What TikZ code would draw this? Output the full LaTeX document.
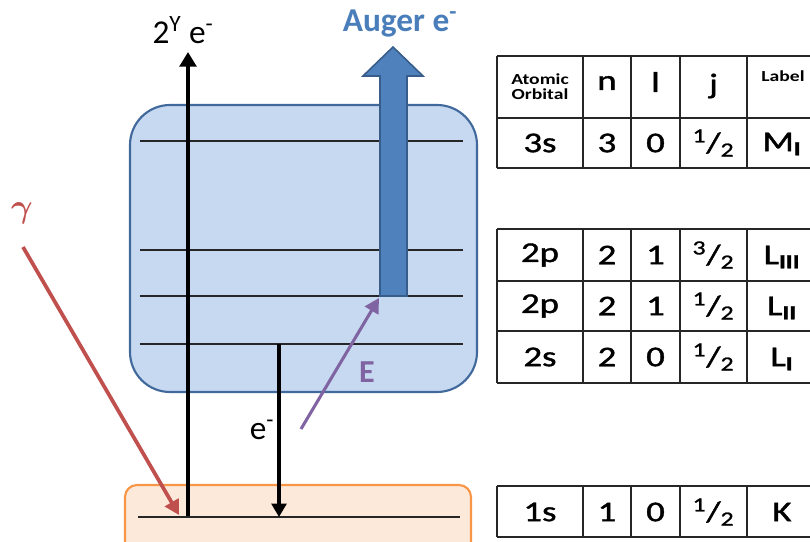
\documentclass[tikz,border=0pt]{standalone}
\usepackage{fontspec}
\usepackage{bm}
\setmainfont{Carlito}
\newfontfamily\tabfont{Carlito}[FakeBold=1.2]
\usetikzlibrary{arrows.meta}
\definecolor{mfill}{HTML}{C6D9F1}
\definecolor{mdraw}{HTML}{41699C}
\definecolor{kfill}{HTML}{FDE9D9}
\definecolor{kdraw}{HTML}{F79646}
\definecolor{augfill}{HTML}{4F81BD}
\definecolor{augdraw}{HTML}{385D8A}
\definecolor{augtext}{HTML}{4A7EBB}
\definecolor{gred}{HTML}{C0504D}
\definecolor{epurple}{HTML}{8064A2}
\newcommand{\tstretch}[1]{\scalebox{1.28}[1]{#1}}
\tikzset{
  level/.style={line width=1pt, draw=black!85},
  grid/.style={line width=1.1pt, draw=black!85},
  cell/.style={inner sep=0pt, font=\tabfont\fontsize{21.5}{23}\selectfont},
  hcell/.style={inner sep=0pt, font=\bfseries\fontsize{11.5}{12}\selectfont, align=center},
  bigtxt/.style={inner sep=0pt, font=\fontsize{25}{28}\selectfont},
}
\begin{document}
\begin{tikzpicture}[x=0.75pt,y=-0.75pt]
\useasboundingbox (0,0) rectangle (810,542);
\clip (0,0) rectangle (810,542);
% shells
\node (mshell) [draw=mdraw, fill=mfill, line width=1.6pt, rounded corners=30pt,
  minimum width=260.25pt, minimum height=215.25pt, inner sep=0pt] at (303.5,248.5) {};
\node (kshell) [draw=kdraw, fill=kfill, line width=1.6pt, rounded corners=9pt,
  minimum width=259.5pt, minimum height=75pt, inner sep=0pt] at (298,535) {};
% levels
\coordinate (m1a) at (140,141); \coordinate (m1b) at (463,141);
\coordinate (l3a) at (140,250); \coordinate (l3b) at (463,250);
\coordinate (l2a) at (140,296); \coordinate (l2b) at (463,296);
\coordinate (l1a) at (140,344); \coordinate (l1b) at (463,344);
\coordinate (ka) at (138,517); \coordinate (kb) at (460,517);
\draw[level] (m1a) -- (m1b);
\draw[level] (l3a) -- (l3b);
\draw[level] (l2a) -- (l2b);
\draw[level] (l1a) -- (l1b);
\draw[level] (ka) -- (kb);
% photoelectron
\coordinate (pe0) at (188,516);
\coordinate (pe1) at (188,52);
\draw[line width=2.9pt, -{Triangle[length=11pt,width=12.5pt]}] (pe0) -- (pe1);
\node (pelab) [bigtxt] at (183,30) {2\textsuperscript{Y} e\textsuperscript{-}};
% relaxing electron
\coordinate (d0) at (279,344);
\coordinate (d1) at (279,517);
\draw[line width=2.9pt, -{Triangle[length=10pt,width=11pt]}] (d0) -- (d1);
\node (dlab) [bigtxt] at (262,430) {e\textsuperscript{-}};
% gamma
\coordinate (g0) at (23,247);
\coordinate (g1) at (179,515);
\draw[gred, line width=2.8pt, -{Triangle[length=11pt,width=11.5pt]}] (g0) -- (g1);
\node (glab) [text=gred, inner sep=0pt, font=\fontsize{28}{30}\selectfont] at (22,213) {$\bm{\gamma}$};
% energy transfer
\coordinate (e0) at (301,429);
\coordinate (e1) at (379,298);
\draw[epurple, line width=2.3pt, -{Triangle[length=11pt,width=11.5pt]}] (e0) -- (e1);
\node (elab) [text=epurple, inner sep=0pt, font=\bfseries\fontsize{24}{26}\selectfont] at (367,372) {E};
% Auger arrow
\node (auger) [text=augtext, inner sep=0pt, font=\bfseries\fontsize{25}{28}\selectfont] at (400,24) {Auger e\textsuperscript{-}};
\draw[fill=augfill, draw=augdraw, line width=1.2pt]
  (380,296) -- (380,76) -- (363,76) -- (393,47) -- (423,76) -- (407,76) -- (407,296) -- cycle;
% tables
\foreach \y in {56,118,168,229,281,331,383,486,537}
  \draw[grid] (497,\y) -- (830,\y);
\foreach \x in {497,583,631,680,747}{
  \draw[grid] (\x,56) -- (\x,168);
  \draw[grid] (\x,229) -- (\x,383);
  \draw[grid] (\x,486) -- (\x,537);
}
% header
\node (h1) [hcell] at (540,87) {\tstretch{Atomic}\\[-1pt]\tstretch{Orbital}};
\node (h2) [cell] at (607,83) {\tstretch{n}};
\node (h3) [cell] at (655.5,82) {\tstretch{l}};
\node (h4) [cell] at (713.5,86) {\tstretch{j}};
\node (h5) [hcell] at (783,76) {\tstretch{Label}};
% rows
\newcommand{\orow}[6]{%
  \node (#6a) [cell] at (540,#1) {\tstretch{#2}};
  \node (#6b) [cell] at (607,#1) {\tstretch{#3}};
  \node (#6c) [cell] at (655.5,#1) {\tstretch{#4}};
  \node (#6d) [cell] at (713.5,#1) {\tstretch{#5}};
}
\orow{143}{3s}{3}{0}{\textsuperscript{1}/\textsubscript{2}}{r1}
\node (r1e) [cell] at (782,144) {\tstretch{M\textsubscript{\bfseries I}}};
\orow{255}{2p}{2}{1}{\textsuperscript{3}/\textsubscript{2}}{r2}
\node (r2e) [cell] at (782,257) {\tstretch{L\textsubscript{\bfseries III}}};
\orow{306}{2p}{2}{1}{\textsuperscript{1}/\textsubscript{2}}{r3}
\node (r3e) [cell] at (782,308) {\tstretch{L\textsubscript{\bfseries II}}};
\orow{357}{2s}{2}{0}{\textsuperscript{1}/\textsubscript{2}}{r4}
\node (r4e) [cell] at (782,359) {\tstretch{L\textsubscript{\bfseries I}}};
\orow{512}{1s}{1}{0}{\textsuperscript{1}/\textsubscript{2}}{r5}
\node (r5e) [cell] at (782,512) {\tstretch{K}};
\end{tikzpicture}
\end{document}
